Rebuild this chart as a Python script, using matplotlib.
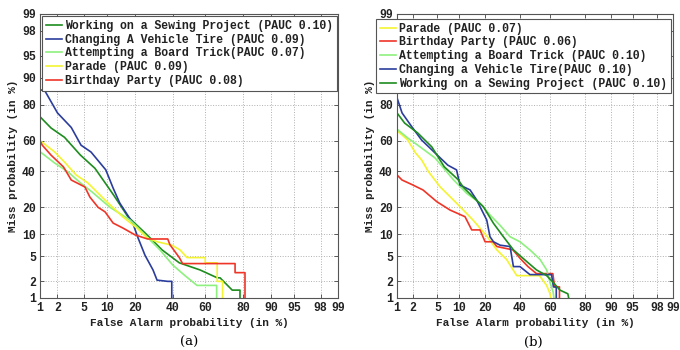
import numpy as np
import matplotlib
matplotlib.use("Agg")
import matplotlib.pyplot as plt
from statistics import NormalDist

# ---------------- data (percent) ----------------
tick_vals = [1, 2, 5, 10, 20, 40, 60, 80, 90, 95, 98, 99]
tick_labels = ["1", "2", "5", "10", "20", "40", "60", "80", "90", "95", "98", "99"]

# Panel (a)
sew_a_x = [1, 1.56, 2.6, 4.5, 7.1, 10.3, 12, 17, 24.6, 33.7, 44, 56.8, 67, 68.6, 75, 78.7, 78.7]
sew_a_y = [74, 67.7, 62, 50.6, 42, 30.6, 26, 16, 10.4, 6.2, 4, 3.1, 2.3, 2.3, 1.4, 1.4, 1]
tire_a_x = [1, 1.2, 2.0, 3.3, 4.6, 6.3, 9.7, 11.8, 14, 19, 21.3, 24.6, 28.7, 30.9, 37, 39.4, 39.4]
tire_a_y = [86, 86, 76, 68, 57, 52.6, 41, 30, 22, 13.6, 9, 5.2, 3.1, 2.1, 2.0, 2.0, 1]
board_a_x = [1, 1.8, 2.95, 4.5, 6.5, 10.9, 17.9, 23.6, 32.5, 40, 47.5, 55, 66.7, 66.7]
board_a_y = [52.8, 45.4, 39.7, 33, 27.8, 20, 14.7, 10.4, 6.2, 3.7, 2.5, 1.7, 1.7, 1]
parade_a_x = [1, 1.8, 2.6, 3.9, 5.7, 10, 15, 20.8, 25.6, 30.9, 39.5, 44.4, 48.8, 60, 60, 67, 67, 70, 70]
parade_a_y = [60, 52.6, 46, 37.8, 33, 22.6, 16, 11.9, 9, 8, 7.2, 6.2, 4.8, 4.8, 4.0, 4.0, 2.0, 2.0, 1]
bday_a_x = [1, 1.1, 1.56, 2.5, 3.3, 5.2, 6.1, 7.8, 9.5, 11.8, 15.1, 20, 25.9, 37, 38.3, 44, 46, 76.4, 76.4, 80.9, 80.9]
bday_a_y = [60, 57, 50.6, 42.9, 34.7, 30.6, 25, 20, 18, 13.6, 11.9, 9.8, 8.7, 8.7, 7.3, 4.8, 3.9, 3.9, 2.8, 2.8, 1]

# Panel (b)
parade_b_x = [1, 1.25, 1.6, 2.2, 2.8, 3.6, 5.5, 9.3, 14.8, 20.8, 26, 31.6, 37.9, 53, 57.8, 60, 60.5]
parade_b_y = [66, 63.5, 60.3, 52, 47.4, 40, 30.6, 22, 14.7, 9.5, 6.2, 4.5, 2.5, 2.5, 1.7, 1.2, 1]
bday_b_x = [1, 1.25, 1.9, 2.95, 4.9, 7.6, 11.9, 14.3, 17.7, 20, 24, 26, 35.5, 40, 45.3, 51, 61.8, 63, 66, 66]
bday_b_y = [37.8, 34.7, 32, 28.9, 22.7, 18.8, 16, 11.3, 11.3, 8, 8, 6.9, 6.2, 4.7, 3.5, 2.7, 2.7, 1.6, 1.6, 1]
board_b_x = [1, 1.6, 2.8, 4.6, 6.2, 8.4, 12.5, 17.7, 22.4, 27.8, 33.7, 40, 46.6, 53.4, 57.8, 60, 62, 62.5]
board_b_y = [67, 61.6, 55.2, 48.7, 42, 35, 27, 22, 16.7, 12.8, 9.3, 8, 6.2, 4.5, 3.1, 1.9, 1.3, 1]
tire_b_x = [1, 1.25, 1.9, 2.8, 4.6, 7.1, 9.3, 10.3, 13.7, 16.3, 19.2, 20.8, 22.4, 24.2, 27.8, 33.7, 35.8, 40, 46.6, 61, 62.2, 64, 64]
tire_b_y = [83, 76, 68.3, 60.3, 52, 44, 41, 31.7, 28.9, 23.5, 17.4, 14.7, 9.3, 8, 7.2, 6.9, 3.5, 3.5, 2.6, 2.6, 1.6, 1.6, 1]
sew_b_x = [1, 1.4, 2.4, 4.1, 6.3, 9.7, 11.4, 14.9, 19.2, 24.2, 29.7, 35.8, 44.4, 51, 57.8, 62.2, 66.3, 71, 71.5]
sew_b_y = [76, 70.5, 64.7, 55.9, 43, 35, 30.3, 25, 20.3, 13.5, 9.3, 6.2, 4.2, 3.1, 2.5, 1.9, 1.4, 1.2, 1]

labels_a = ["Working on a Sewing Project (PAUC 0.10)",
            "Changing A Vehicle Tire (PAUC 0.09)",
            "Attempting a Board Trick(PAUC 0.07)",
            "Parade (PAUC 0.09)",
            "Birthday Party (PAUC 0.08)"]
labels_b = ["Parade (PAUC 0.07)",
            "Birthday Party (PAUC 0.06)",
            "Attempting a Board Trick (PAUC 0.10)",
            "Changing a Vehicle Tire(PAUC 0.10)",
            "Working on a Sewing Project (PAUC 0.10)"]

C_SEW = "#1e8c1e"
C_TIRE = "#2b3d9c"
C_BOARD = "#8ef07e"
C_PARADE = "#f4f432"
C_BDAY = "#ee3528"

# ---------------- probit scale ----------------
_nd = NormalDist()
_ppf = np.vectorize(lambda p: _nd.inv_cdf(min(max(p / 100.0, 1e-9), 1 - 1e-9)), otypes=[float])
_cdf = np.vectorize(lambda z: _nd.cdf(z) * 100.0, otypes=[float])

def fwd(v):
    return _ppf(np.asarray(v, dtype=float))

def inv(v):
    return _cdf(np.asarray(v, dtype=float))

MONO = "Liberation Mono"

fig = plt.figure(figsize=(6.8, 3.5), dpi=100)
ax_a = fig.add_axes([40 / 680, 52 / 350, 298 / 680, 284 / 350])
ax_b = fig.add_axes([397 / 680, 52 / 350, 276 / 680, 284 / 350])

def setup(ax):
    ax.set_xscale("function", functions=(fwd, inv))
    ax.set_yscale("function", functions=(fwd, inv))
    ax.set_xlim(1, 99)
    ax.set_ylim(1, 99)
    ax.set_xticks(tick_vals)
    ax.set_xticklabels(tick_labels)
    ax.set_yticks(tick_vals)
    ax.set_yticklabels(tick_labels)
    ax.minorticks_off()
    ax.tick_params(direction="in", top=True, right=True, length=3, width=0.6,
                   color="#444444", labelsize=8.3, pad=3)
    for lab in ax.get_xticklabels() + ax.get_yticklabels():
        lab.set_family(MONO)
        lab.set_fontweight("bold")
        lab.set_color("#222222")
    ax.grid(True, linestyle=":", color="#b0b0b0", linewidth=0.7)
    for s in ax.spines.values():
        s.set_color("#555555")
        s.set_linewidth(0.8)
    ax.set_xlabel("False Alarm probability (in %)", family=MONO, fontweight="bold",
                  fontsize=8.0, color="#222222", labelpad=3)
    ax.set_ylabel("Miss probability (in %)", family=MONO, fontweight="bold",
                  fontsize=8.0, color="#222222", labelpad=3)

setup(ax_a)
setup(ax_b)

lw = 1.2
series_a = [(sew_a_x, sew_a_y, C_SEW), (tire_a_x, tire_a_y, C_TIRE),
            (board_a_x, board_a_y, C_BOARD), (parade_a_x, parade_a_y, C_PARADE),
            (bday_a_x, bday_a_y, C_BDAY)]
for (x, y, c), lab in zip(series_a, labels_a):
    ax_a.plot(x, y, color=c, lw=lw, label=lab)

series_b = [(parade_b_x, parade_b_y, C_PARADE), (bday_b_x, bday_b_y, C_BDAY),
            (board_b_x, board_b_y, C_BOARD), (tire_b_x, tire_b_y, C_TIRE),
            (sew_b_x, sew_b_y, C_SEW)]
for (x, y, c), lab in zip(series_b, labels_b):
    ax_b.plot(x, y, color=c, lw=lw, label=lab)

leg_kw = dict(prop={"family": MONO, "weight": "bold", "size": 8.3},
              fancybox=False, framealpha=1, edgecolor="#555555",
              handlelength=1.4, handletextpad=0.3, labelspacing=0.16,
              borderpad=0.3, borderaxespad=0.2)
la = ax_a.legend(loc="upper left", bbox_to_anchor=(0.0, 1.0), **leg_kw)
lb = ax_b.legend(loc="upper right", bbox_to_anchor=(1.0, 0.99), **leg_kw)
for l in (la, lb):
    l.get_frame().set_linewidth(0.8)
    for t in l.get_texts():
        t.set_color("#222222")

fig.text(189 / 680, 1 - 342 / 350, "(a)", family="DejaVu Serif", fontsize=9.5,
         ha="center", va="center")
fig.text(533 / 680, 1 - 342 / 350, "(b)", family="DejaVu Serif", fontsize=9.5,
         ha="center", va="center")

fig.savefig("out.png", dpi=100)
